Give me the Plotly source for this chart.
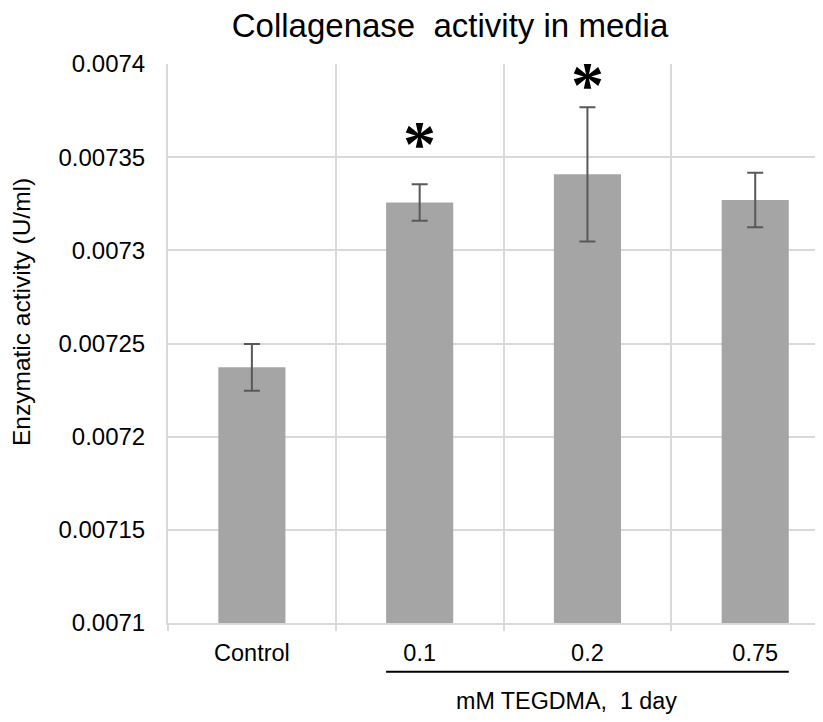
import plotly.graph_objects as go

# ---- data ----
categories = ["Control", "0.1", "0.2", "0.75"]
activity = [0.0072372, 0.0073257, 0.0073408, 0.0073270]
activity_err = [0.0000125, 0.0000098, 0.0000360, 0.0000146]
y_tick_vals = [0.0071, 0.00715, 0.0072, 0.00725, 0.0073, 0.00735, 0.0074]
y_tick_text = ["0.0071", "0.00715", "0.0072", "0.00725", "0.0073", "0.00735", "0.0074"]
significant = ["0.1", "0.2"]
star_levels = [0.0073610, 0.0073928]

title_text = "Collagenase\u00a0 activity in media"
y_title = "Enzymatic activity (U/ml)"
group_label = "mM TEGDMA,\u00a0 1 day"

FONT = "Liberation Sans, Arial, sans-serif"
GRID = "#d9d9d9"
BAR_W = 0.4

x_pos = list(range(len(categories)))

fig = go.Figure()
fig.add_trace(go.Bar(
    x=x_pos, y=activity, width=BAR_W,
    marker=dict(color="#a5a5a5", line=dict(width=0)),
    error_y=dict(type="data", array=activity_err, visible=True,
                 color="#595959", thickness=2, width=8),
    showlegend=False,
))

annotations = []
for cat, lvl in zip(significant, star_levels):
    annotations.append(dict(
        x=categories.index(cat), y=lvl, xref="x", yref="y",
        text="<b>*</b>", showarrow=False, yanchor="middle", xanchor="center",
        font=dict(family="Liberation Serif, Times New Roman, serif", size=66, color="black"),
        yshift=-7,
    ))

annotations.append(dict(
    x=-0.2235, y=0.5557, xref="paper", yref="paper", text=y_title,
    textangle=-90, showarrow=False, xanchor="center", yanchor="middle",
    font=dict(family=FONT, size=24.5, color="black"),
))
annotations.append(dict(
    x=1.876, y=-0.140, xref="x", yref="paper", text=group_label,
    showarrow=False, xanchor="center", yanchor="middle",
    font=dict(family=FONT, size=23.3, color="black"),
))

shapes = [dict(
    type="line", xref="x", yref="paper",
    x0=1 - BAR_W / 2, x1=3 + BAR_W / 2, y0=-0.0871, y1=-0.0871,
    line=dict(color="black", width=2),
)]

fig.update_layout(
    width=815, height=714,
    margin=dict(l=160, r=0, t=56, b=99),
    paper_bgcolor="white", plot_bgcolor="white",
    title=dict(text=title_text, x=442 / 815, xref="container", xanchor="center",
               y=1 - 17 / 714, yref="container", yanchor="middle",
               font=dict(family=FONT, size=33, color="black")),
    xaxis=dict(
        range=[-0.5, 3.404], tickvals=x_pos, ticktext=categories,
        ticks="outside", ticklen=8, tickcolor="rgba(0,0,0,0)",
        showgrid=False, zeroline=False,
        showline=True, linecolor=GRID, linewidth=2,
        tickfont=dict(family=FONT, size=23.5, color="black"),
        minor=dict(tickvals=[-0.5, 0.5, 1.5, 2.5, 3.5], ticks="outside", ticklen=6,
                   tickcolor=GRID, tickwidth=2, showgrid=True, gridcolor=GRID, gridwidth=2),
    ),
    yaxis=dict(
        range=[0.0071, 0.0074], tickvals=y_tick_vals, ticktext=y_tick_text,
        showgrid=True, gridcolor=GRID, gridwidth=2, zeroline=False,
        showline=True, linecolor=GRID, linewidth=2,
        ticks="outside", ticklen=16, tickcolor="rgba(0,0,0,0)",
        tickfont=dict(family=FONT, size=24, color="black"),
    ),
    annotations=annotations,
    shapes=shapes,
)

fig.write_html("out.html")
